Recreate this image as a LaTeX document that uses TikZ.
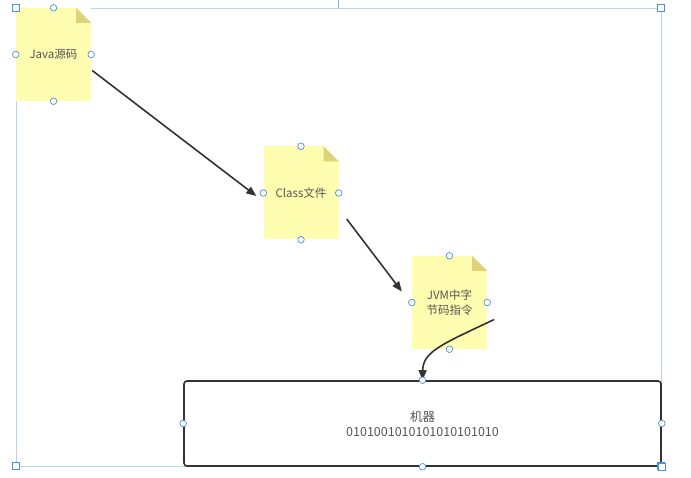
\documentclass[tikz,border=0pt]{standalone}
\usepackage{fontspec}
\setmainfont{Noto Sans CJK SC}
\usetikzlibrary{arrows.meta,calc}
\definecolor{notefill}{HTML}{FFFDB0}
\definecolor{notefold}{HTML}{DDD47A}
\definecolor{handle}{HTML}{4A90E2}
\definecolor{selline}{HTML}{B5D3F2}
\definecolor{arrowc}{HTML}{333333}
\definecolor{txt}{HTML}{555555}
\tikzset{
  x=1pt,y=-1pt,
  note/.style={fill=notefill,draw=none,minimum width=75pt,minimum height=93pt,inner sep=0pt,
    text=txt,font=\fontsize{11.5}{15}\selectfont,align=center},
  machine/.style={draw=arrowc,line width=1.6pt,rounded corners=3pt,minimum width=477pt,minimum height=85pt,
    inner sep=0pt,text=txt,font=\fontsize{12.5}{15}\selectfont,align=center,fill=white},
  flow/.style={draw=arrowc,line width=1.6pt,-{Triangle[length=10pt,width=8pt]}},
  hcirc/.style={draw=handle,fill=white,line width=0.7pt},
  hsq/.style={draw=handle,fill=white,line width=0.8pt},
}
\newcommand{\fold}[1]{%
  \fill[white] ($(#1.north east)+(-15,0)$) -- (#1.north east) -- ($(#1.north east)+(0,15)$) -- cycle;
  \fill[notefold] ($(#1.north east)+(-15,0)$) -- ($(#1.north east)+(0,15)$) -- ($(#1.north east)+(-15,15)$) -- cycle;}
\newcommand{\hc}[1]{\draw[hcirc] (#1) circle (3.3pt);}
\newcommand{\hs}[1]{\draw[hsq] ($(#1)+(-3.3,-3.3)$) rectangle ($(#1)+(3.3,3.3)$);}
\begin{document}
\begin{tikzpicture}
\useasboundingbox (0,0) rectangle (691,478);
\fill[white] (0,0) rectangle (691,478);
% selection frame
\coordinate (s1) at (16,8);
\coordinate (s2) at (661,8);
\coordinate (s3) at (661,466);
\coordinate (s4) at (16,466);
\draw[selline,line width=0.8pt] (s1) -- (s2) -- (s3) -- (s4) -- cycle;
\draw[handle!70,line width=0.8pt] (338,0) -- (338,8);
% notes
\node[note] (n1) at (53.5,54.5) {Java源码};
\node[note] (n2) at (301,193) {Class文件};
\node[note] (n3) at (449.5,302.5) {JVM中字\\节码指令};
\fold{n1}\fold{n2}\fold{n3}
% machine box
\node[machine] (m) at (422.5,423.5) {机器\\0101001010101010101010};
% arrows
\draw[flow] ($(n1.east)+(1,16)$) -- ($(n2.west)+(-7,3)$);
\draw[flow] ($(n2.east)+(8,26)$) -- ($(n3.west)+(-10,-11)$);
\draw[flow] ($(n3.east)+(7,17)$) .. controls (440,345) and (423,352) .. (m.north);
% handles
\hs{s1}\hs{s2}\hs{s4}\hs{s3}
\foreach \n in {n1,n2,n3,m}{\hc{\n.north}\hc{\n.south}\hc{\n.east}\hc{\n.west}}
\hs{m.south east}
\end{tikzpicture}
\end{document}
